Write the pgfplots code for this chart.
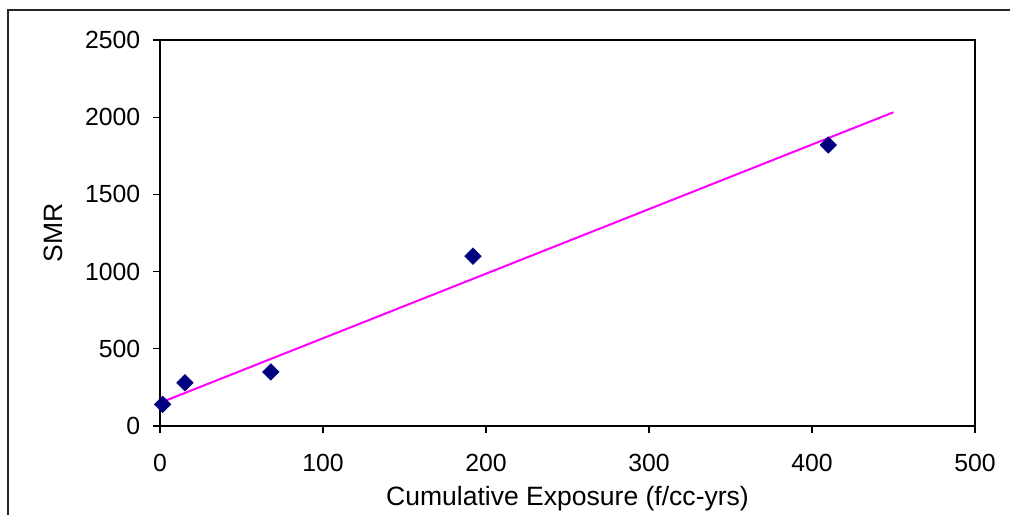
\documentclass[border=0pt]{standalone}
\usepackage{fontspec}
\setmainfont{Liberation Sans}
\usepackage{pgfplots}
\pgfplotsset{compat=1.18}

\definecolor{navy}{HTML}{000080}
\definecolor{magen}{HTML}{FF00FF}

\newcommand{\tickfont}{\fontsize{18.6}{22}\selectfont}
\newcommand{\labfont}{\fontsize{19.9}{24}\selectfont}

\begin{document}
\begin{tikzpicture}
  % page box: 1010x514 px at 0.75pt per px, origin at the axis corner
  \useasboundingbox (-120pt,-66pt) rectangle (637.5pt,319.5pt);
  \draw[line width=0.9pt, black!85] (-114pt,-70pt) -- (-114pt,312pt) -- (640pt,312pt);

  \begin{axis}[
      at={(0pt,0pt)}, anchor=south west,
      scale only axis,
      width=611.25pt, height=289.5pt,
      xmin=0, xmax=500, ymin=0, ymax=2500,
      xtick={0,100,200,300,400,500},
      ytick={0,500,1000,1500,2000,2500},
      xtick pos=bottom, ytick pos=left,
      tick align=outside,
      major tick length=5.25pt,
      tick style={black, line width=0.8pt},
      axis line style={line width=0.8pt},
      x axis line style={line width=1.6pt},
      /pgf/number format/assume math mode=true,
      /pgf/number format/1000 sep={},
      ticklabel style={font=\tickfont},
      xticklabel style={yshift=-12.5pt},
      yticklabel style={xshift=-6pt},
      xlabel={Cumulative Exposure (f/cc-yrs)},
      ylabel={SMR},
      label style={font=\labfont},
      xlabel style={at={(axis description cs:0.5,-0.207)}, anchor=base},
      ylabel style={at={(axis description cs:-0.131,0.5)}, anchor=center},
      clip=false,
    ]
    % trendline
    \addplot[magen, line width=1.5pt] coordinates {(0,150) (450,2032)};
    % observed points
    \addplot[only marks, mark=square*, mark size=4.4pt,
             mark options={rotate=45, fill=navy, draw=navy}]
      coordinates {(1.6,140) (15.3,280) (68,350) (192,1100) (410,1820)};
  \end{axis}
\end{tikzpicture}
\end{document}
